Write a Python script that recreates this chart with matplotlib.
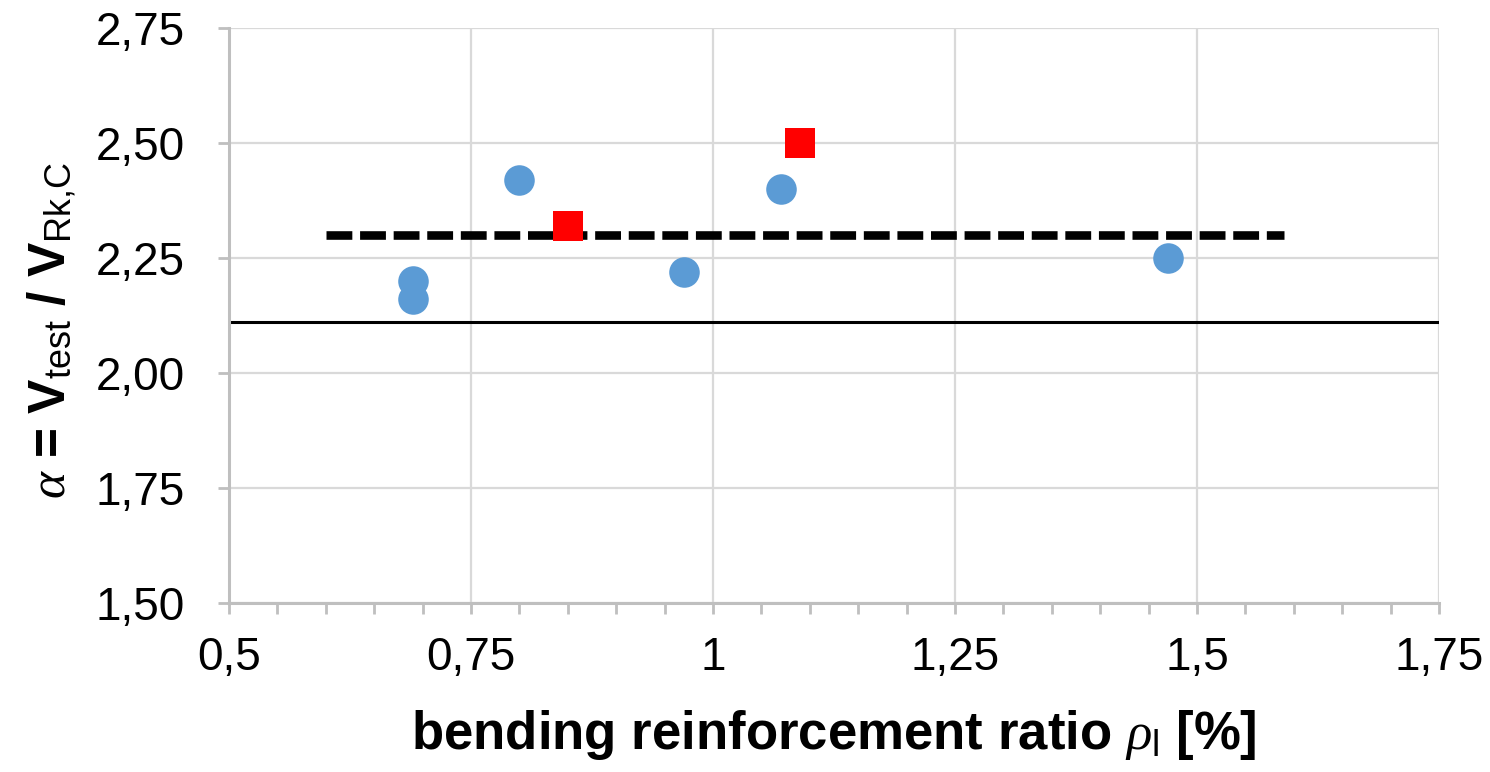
import matplotlib.pyplot as plt
import matplotlib as mpl

# values
blue_x = [0.69, 0.69, 0.80, 0.97, 1.07, 1.47]
blue_y = [2.20, 2.16, 2.42, 2.22, 2.40, 2.25]
red_x = [0.85, 1.09]
red_y = [2.32, 2.50]
mean_x = [0.60, 1.59]
mean_y = [2.30, 2.30]
limit_y = 2.11

x_ticks = [0.5, 0.75, 1.0, 1.25, 1.5, 1.75]
x_labels = ["0,5", "0,75", "1", "1,25", "1,5", "1,75"]
y_ticks = [1.50, 1.75, 2.00, 2.25, 2.50, 2.75]
y_labels = ["1,50", "1,75", "2,00", "2,25", "2,50", "2,75"]

mpl.rcParams['font.family'] = ['Liberation Sans', 'DejaVu Sans']
mpl.rcParams['mathtext.fontset'] = 'custom'
mpl.rcParams['mathtext.rm'] = 'Liberation Sans'
mpl.rcParams['mathtext.bf'] = 'Liberation Sans:bold'
mpl.rcParams['mathtext.it'] = 'Liberation Serif:italic'

fig = plt.figure(figsize=(14.9, 7.72), dpi=100)
ax = fig.add_axes([229/1490, 1-603/772, 1210/1490, 575/772])

grid_col = '#D9D9D9'
spine_col = '#BFBFBF'

ax.set_xlim(0.5, 1.75)
ax.set_ylim(1.5, 2.75)
ax.set_xticks(x_ticks)
ax.set_xticklabels(x_labels)
ax.set_yticks(y_ticks)
ax.set_yticklabels(y_labels)
ax.set_xticks([0.5 + 0.05*i for i in range(26)], minor=True)

ax.grid(True, which='major', color=grid_col, linewidth=1.6, zorder=0)
ax.set_axisbelow(True)
for s in ['top', 'right']:
    ax.spines[s].set_visible(False)
for s in ['left', 'bottom']:
    ax.spines[s].set_color(spine_col)
    ax.spines[s].set_linewidth(2.2)

ax.tick_params(axis='both', which='both', color=spine_col, width=2.0,
               length=8, direction='out', labelsize=33)
ax.tick_params(axis='x', which='major', pad=16)
ax.tick_params(axis='y', which='major', pad=24)
ax.tick_params(axis='y', which='minor', left=False)

ax.axhline(limit_y, color='black', linewidth=2.2, zorder=2)
ax.plot(mean_x, mean_y, color='black', linewidth=6.2, dashes=(3.0, 0.9),
        solid_capstyle='butt', zorder=3)
ax.plot(blue_x, blue_y, 'o', color='#5B9BD5', markersize=22,
        markeredgewidth=0, zorder=4)
ax.plot(red_x, red_y, 's', color='#FF0000', markersize=22,
        markeredgewidth=0, zorder=4)

fig.text(834/1490, 1-735/772, r'bending reinforcement ratio $\rho_\mathrm{l}$ [%]',
         ha='center', va='center', fontsize=38, fontweight='bold')
fig.text(52/1490, 1-330/772, r'$\alpha$ = V$_\mathrm{test}$ / V$_\mathrm{Rk{,}C}$',
         ha='center', va='center', rotation=90, fontsize=37, fontweight='bold')

plt.savefig('out.png', dpi=100)
